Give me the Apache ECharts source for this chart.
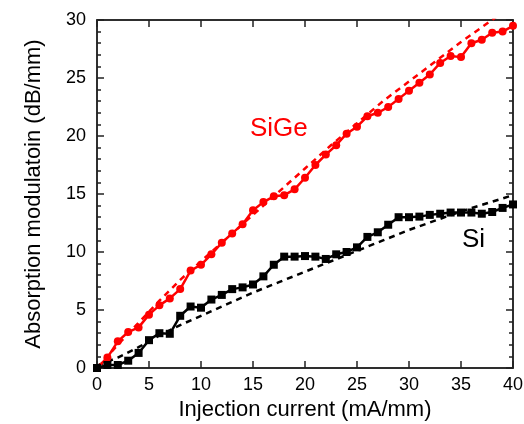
<!DOCTYPE html>
<html>
<head>
<meta charset="utf-8">
<script src="https://cdn.jsdelivr.net/npm/echarts@6/dist/echarts.min.js"></script>
<style>
  html, body { margin: 0; padding: 0; background: #fff; }
  #chart { width: 524px; height: 424px; }
</style>
</head>
<body>
<div id="chart"></div>
<script>
// Injection current (mA/mm), measured every 1 mA/mm
const current = [0,1,2,3,4,5,6,7,8,9,10,11,12,13,14,15,16,17,18,19,20,
                 21,22,23,24,25,26,27,28,29,30,31,32,33,34,35,36,37,38,39,40];

// Measured absorption modulation (dB/mm)
const sigeMeasured = [0,0.9,2.3,3.1,3.5,4.6,5.4,6.0,6.8,8.4,8.9,9.8,10.8,11.6,12.4,13.6,14.3,14.8,14.9,15.4,16.4,
                      17.5,18.4,19.2,20.2,20.8,21.7,22.0,22.5,23.2,23.9,24.6,25.3,26.3,26.9,26.8,28.0,28.3,28.9,29.0,29.5];
const siMeasured = [0,0.26,0.26,0.63,1.3,2.4,3.0,2.95,4.5,5.3,5.2,5.9,6.3,6.8,6.95,7.2,7.9,8.9,9.6,9.6,9.65,
                    9.6,9.4,9.8,10.0,10.4,11.3,11.7,12.35,13.0,13.0,13.05,13.2,13.3,13.4,13.4,13.4,13.3,13.45,13.8,14.1];

// Model curves (dashed)
const modelCurrent = [0,2,4,6,8,10,12.5,15,17.5,20,22.5,25,27.5,30,32.5,35,37.5,40];
const sigeModel = [0,2.0,3.9,5.8,7.6,9.2,11.2,13.2,15.2,17.2,19.2,21.1,23.0,24.7,26.4,28.1,29.7,31.3];
const siModel = [0.2,0.9,1.8,2.8,3.7,4.5,5.5,6.5,7.4,8.3,9.2,10.1,11.0,11.9,12.7,13.5,14.2,14.9];

// Axis ticks
const xTicks = [0,5,10,15,20,25,30,35,40];
const yTicks = [0,5,10,15,20,25,30];

const pairs = (xs, ys) => xs.map((x, i) => [x, ys[i]]);

const FONT = 'Liberation Sans, Arial, sans-serif';
const XMIN = xTicks[0], XMAX = xTicks[xTicks.length - 1];
const YMIN = yTicks[0], YMAX = yTicks[yTicks.length - 1];

const line = () => ({ show: true, lineStyle: { color: '#222', width: 1.5 } });
const tick = () => ({ show: true, inside: true, length: 7, lineStyle: { color: '#222', width: 1.5 } });
const minor = () => ({ show: true, splitNumber: 5, length: 4, lineStyle: { color: '#222', width: 1.5 } });

const box = { left: 97, right: 11, top: 20, bottom: 56, outerBoundsMode: 'none' };

const chart = echarts.init(document.getElementById('chart'), null, { renderer: 'canvas' });

chart.setOption({
  animation: false,
  grid: [
    // main plotting area, framed
    Object.assign({}, box, { show: true, borderColor: '#222', borderWidth: 1.5, backgroundColor: 'transparent' }),
    // same box, used only for the mirrored ticks on the top and right edges
    Object.assign({}, box)
  ],
  xAxis: [
    {
      gridIndex: 0, type: 'value', min: XMIN, max: XMAX, interval: 5, position: 'bottom',
      axisLine: line(), axisTick: tick(), splitLine: { show: false },
      name: 'Injection current (mA/mm)', nameLocation: 'middle', nameGap: 28,
      nameTextStyle: { fontFamily: FONT, fontSize: 22, color: '#000' },
      axisLabel: { fontFamily: FONT, fontSize: 18, color: '#000', margin: 8 }
    },
    {
      // reversed so that its zero line is the right edge
      gridIndex: 1, type: 'value', min: XMIN, max: XMAX, interval: 5, inverse: true, position: 'top',
      axisLine: line(), axisTick: tick(), splitLine: { show: false }, axisLabel: { show: false }
    }
  ],
  yAxis: [
    {
      gridIndex: 0, type: 'value', min: YMIN, max: YMAX, interval: 5, position: 'left',
      axisLine: line(), axisTick: tick(), minorTick: minor(), splitLine: { show: false },
      name: 'Absorption modulatoin (dB/mm)', nameLocation: 'middle', nameGap: 52,
      nameTextStyle: { fontFamily: FONT, fontSize: 22, color: '#000' },
      axisLabel: { fontFamily: FONT, fontSize: 18, color: '#000', margin: 11 }
    },
    {
      // reversed so that its zero line is the top edge
      gridIndex: 1, type: 'value', min: YMIN, max: YMAX, interval: 5, inverse: true, position: 'right',
      axisLine: line(), axisTick: tick(), minorTick: minor(), splitLine: { show: false }, axisLabel: { show: false }
    }
  ],
  series: [
    {
      name: 'SiGe model', type: 'line', data: pairs(modelCurrent, sigeModel),
      xAxisIndex: 0, yAxisIndex: 0,
      symbol: 'none', clip: true, z: 2,
      lineStyle: { color: '#ff0000', width: 2.5, type: [6, 5] }
    },
    {
      name: 'Si model', type: 'line', data: pairs(modelCurrent, siModel),
      xAxisIndex: 0, yAxisIndex: 0,
      symbol: 'none', clip: true, z: 2,
      lineStyle: { color: '#000', width: 2.5, type: [6, 5] }
    },
    {
      name: 'SiGe', type: 'line', data: pairs(current, sigeMeasured),
      xAxisIndex: 0, yAxisIndex: 0,
      symbol: 'circle', symbolSize: 8, clip: false, z: 3,
      lineStyle: { color: '#ff0000', width: 2.5 },
      itemStyle: { color: '#ff0000' }
    },
    {
      name: 'Si', type: 'line', data: pairs(current, siMeasured),
      xAxisIndex: 0, yAxisIndex: 0,
      symbol: 'rect', symbolSize: 8, clip: false, z: 3,
      lineStyle: { color: '#000', width: 2.5 },
      itemStyle: { color: '#000' }
    }
  ],
  graphic: [
    {
      type: 'text', left: 250, top: 116,
      style: { text: 'SiGe', fill: '#ff0000', font: '26px ' + FONT }
    },
    {
      type: 'text', left: 462, top: 227,
      style: { text: 'Si', fill: '#000', font: '26px ' + FONT }
    }
  ]
});
</script>
</body>
</html>
